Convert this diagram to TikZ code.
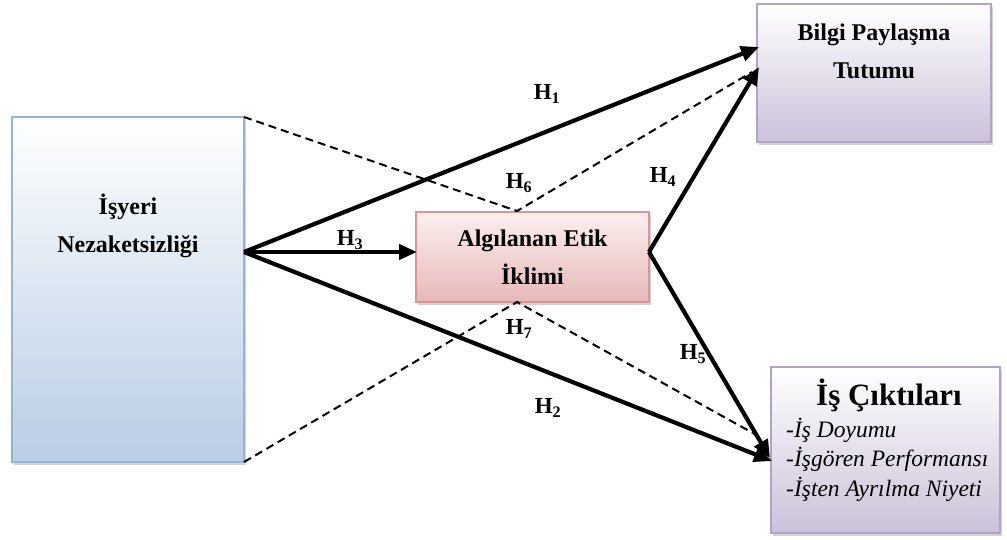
\documentclass[tikz,border=0pt]{standalone}
\usepackage{fontspec}
\setmainfont{Liberation Serif}
\usetikzlibrary{arrows.meta,shadows}

\definecolor{blueedge}{HTML}{95B3D7}
\definecolor{bluefill}{HTML}{B9CDE5}
\definecolor{lilacedge}{HTML}{B3A2C7}
\definecolor{lilacfill}{HTML}{CCC1DA}
\definecolor{rosedge}{HTML}{D99694}
\definecolor{rosefill}{HTML}{E6B9B8}
\definecolor{rosetop}{HTML}{FCEFEF}

\tikzset{
  box/.style={rectangle, inner sep=0pt, line width=1.2pt,
    drop shadow={shadow xshift=2pt, shadow yshift=-2.5pt, opacity=0.35, fill=gray}},
  bluebox/.style={box, draw=blueedge, top color=white, bottom color=bluefill},
  lilacbox/.style={box, draw=lilacedge, top color=white, bottom color=lilacfill},
  rosebox/.style={box, draw=rosedge, top color=rosetop, bottom color=rosefill},
  title/.style={font=\fontsize{24}{38}\selectfont\bfseries, align=center, inner sep=0pt},
  hyp/.style={font=\fontsize{23}{26}\selectfont\bfseries, inner sep=0pt},
  path/.style={line width=4.2pt, -{Triangle[length=18pt,width=15pt]}},
  link/.style={line width=2pt, dash pattern=on 8pt off 5pt}
}

\begin{document}
\begin{tikzpicture}[x=1pt,y=-1pt]
  \useasboundingbox (0,0) rectangle (1007,539);

  % boxes
  \node[bluebox, minimum width=232pt, minimum height=345pt] (inc) at (128,289.5) {};
  \node[lilacbox, minimum width=234pt, minimum height=138pt] (kst) at (874,73) {};
  \node[lilacbox, minimum width=229pt, minimum height=166pt] (out) at (885.5,450) {};
  \node[rosebox, minimum width=233pt, minimum height=90pt,
        title, text depth=0pt] (eth) at (532.5,257) {Algılanan Etik\\İklimi};

  % box texts (anchor base = baseline of the last line)
  \node[title, anchor=base] (inctxt) at (128,252) {İşyeri\\Nezaketsizliği};
  \node[title, anchor=base] (ksttxt) at (874,78) {Bilgi Paylaşma\\Tutumu};
  \node[font=\fontsize{31}{34}\selectfont\bfseries, anchor=base, inner sep=0pt]
    (outtitle) at (889,405) {İş Çıktıları};
  \node[font=\fontsize{23.5}{29.5}\selectfont\itshape, align=left, anchor=base west,
        inner sep=0pt] (outlist) at (786,496)
    {-İş Doyumu\\-İşgören Performansı\\-İşten Ayrılma Niyeti};

  % connector end points
  \coordinate (src) at (244,252);
  \coordinate (srcT) at (244,117);
  \coordinate (srcB) at (244,462);
  \coordinate (midT) at (517,211);
  \coordinate (midB) at (517,302);
  \coordinate (mid) at (649,252);
  \coordinate (ethin) at (417,252);
  \coordinate (k1) at (759,47);
  \coordinate (k2) at (759,67);
  \coordinate (kd) at (752,72);
  \coordinate (o1) at (772,461);
  \coordinate (o2) at (770,458);
  \coordinate (od) at (760,437);

  % dashed mediation paths
  \draw[link] (srcT) -- (midT) -- (kd);
  \draw[link] (srcB) -- (midB) -- (od);

  % direct paths
  \draw[path] (src) -- (k1);
  \draw[path] (src) -- (o1);
  \draw[path] (src) -- (ethin);
  \draw[path] (mid) -- (k2);
  \draw[path] (mid) -- (o2);

  % hypothesis labels
  \node[hyp] (h1) at (547,94) {H\textsubscript{1}};
  \node[hyp] (h2) at (548,408) {H\textsubscript{2}};
  \node[hyp] (h3) at (350,240) {H\textsubscript{3}};
  \node[hyp] (h4) at (663,177) {H\textsubscript{4}};
  \node[hyp] (h5) at (693,354) {H\textsubscript{5}};
  \node[hyp] (h6) at (519,183) {H\textsubscript{6}};
  \node[hyp] (h7) at (519,329) {H\textsubscript{7}};
\end{tikzpicture}
\end{document}
